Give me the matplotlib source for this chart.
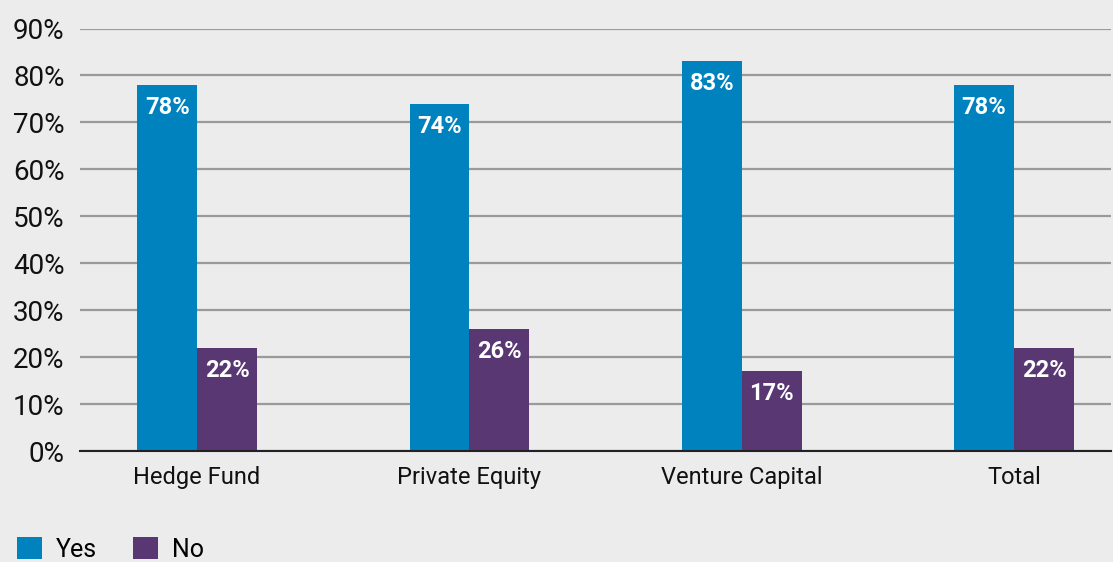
import numpy as np
import matplotlib.pyplot as plt

# ------------------------------------------------------------
# Data
# ------------------------------------------------------------
categories = ["Hedge Fund", "Private Equity", "Venture Capital", "Total"]
yes_vals = [78, 74, 83, 78]
no_vals = [22, 26, 17, 22]
y_ticks = [0, 10, 20, 30, 40, 50, 60, 70, 80, 90]

BG = "#ececec"
BLUE = "#0082bf"
PURPLE = "#583773"

plt.rcParams["font.family"] = ["Roboto", "DejaVu Sans"]

fig = plt.figure(figsize=(11.13, 5.62), dpi=100, facecolor=BG)
ax = fig.add_axes([80 / 1113, (562 - 451) / 562, (1111 - 80) / 1113, (451 - 28.5) / 562])
ax.set_facecolor(BG)

x = np.arange(len(categories))
w = 0.22

b_yes = ax.bar(x - w / 2, yes_vals, w, color=BLUE, label="Yes", zorder=3)
b_no = ax.bar(x + w / 2, no_vals, w, color=PURPLE, label="No", zorder=3)

# value labels inside the top of each bar
for bars, vals in ((b_yes, yes_vals), (b_no, no_vals)):
    for rect, v in zip(bars, vals):
        ax.annotate(f"{v}%", (rect.get_x() + rect.get_width() / 2, rect.get_height()),
                    xytext=(0, -8), textcoords="offset points", ha="center", va="top",
                    color="white", fontsize=17, fontweight="bold", zorder=4)

ax.set_ylim(0, 90)
ax.set_xlim(-0.43, 3.356)
ax.set_yticks(y_ticks)
ax.set_yticklabels([f"{t}%" for t in y_ticks])
ax.set_xticks(x)
ax.set_xticklabels(categories)
ax.tick_params(axis="y", length=0, labelsize=20, pad=11, colors="#111111")
ax.tick_params(axis="x", length=0, labelsize=17, pad=11, colors="#111111")

ax.grid(axis="y", color="#9a9a9a", linewidth=1.6, zorder=0)
ax.set_axisbelow(True)
for side in ("left", "right", "top"):
    ax.spines[side].set_visible(False)
ax.spines["bottom"].set_color("#222222")
ax.spines["bottom"].set_linewidth(1.5)
ax.spines["bottom"].set_zorder(5)

fig.legend(loc="upper left", bbox_to_anchor=(17 / 1113, (562 - 537) / 562),
           ncol=2, frameon=False, fontsize=18, handlelength=1.0, handleheight=1.0,
           handletextpad=0.55, columnspacing=1.45, borderpad=0, borderaxespad=0)

fig.savefig("out.png", dpi=100, facecolor=BG)
